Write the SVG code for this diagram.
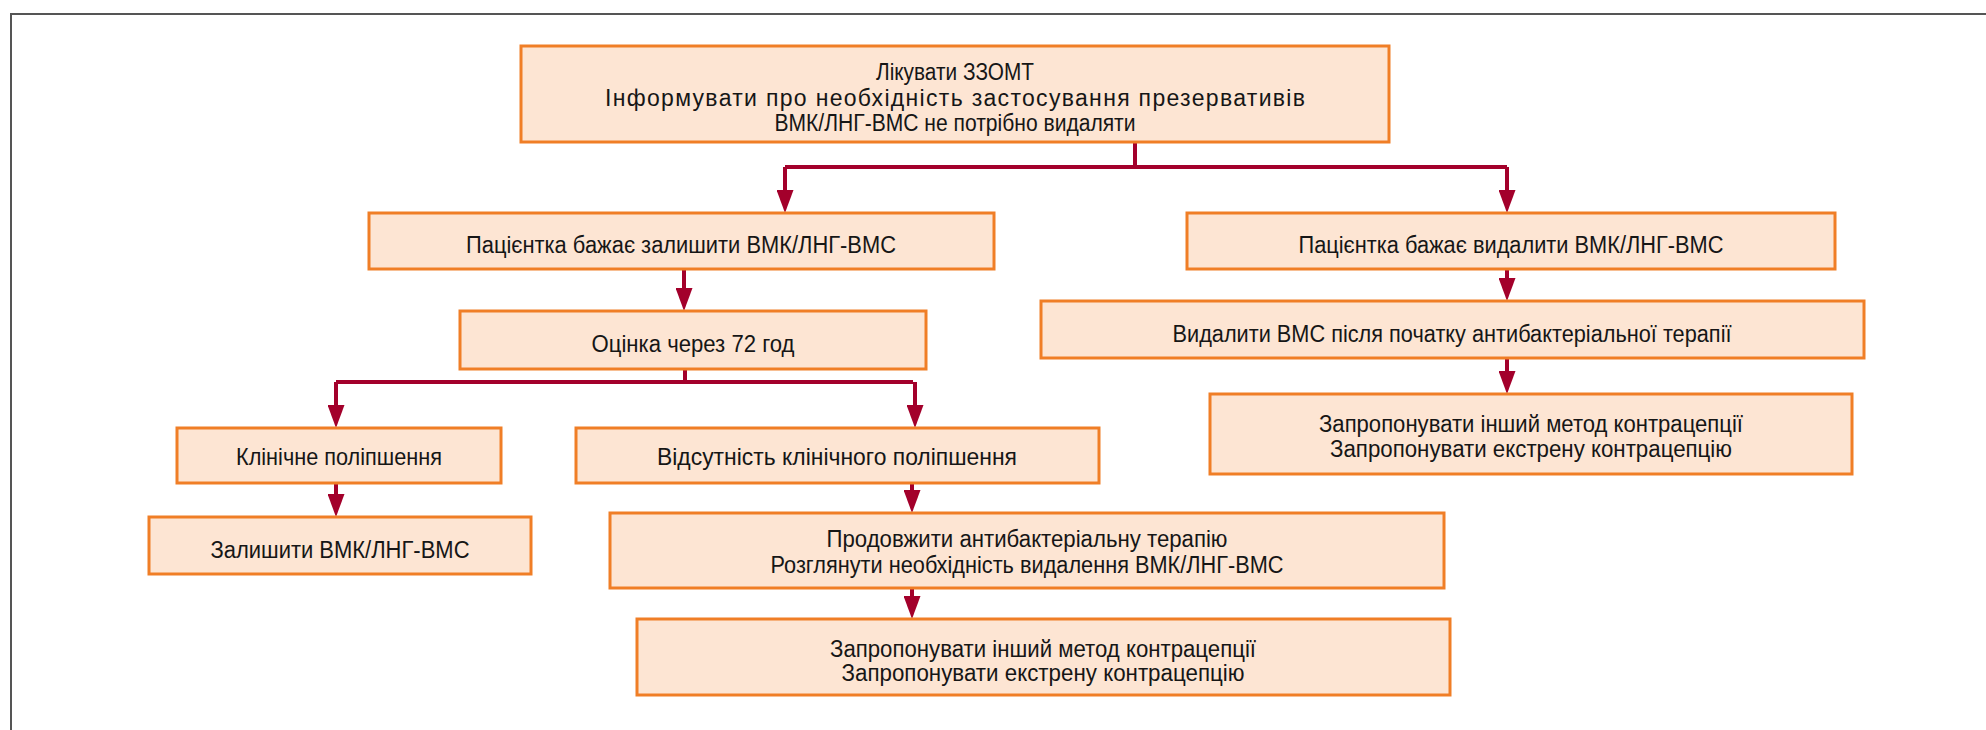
<svg xmlns="http://www.w3.org/2000/svg" width="1986" height="730" viewBox="0 0 1986 730">
<style>
.box{fill:#FDE5D3;stroke:#F07E26;stroke-width:3}
.t{font-family:"Liberation Sans",Arial,sans-serif;font-size:23px;fill:#161616;text-anchor:middle}
.c{fill:none;stroke:#A3002B;stroke-width:4}
</style>
<defs>
<marker id="ah" viewBox="0 0 23 17" refX="13" refY="8.5" markerWidth="23" markerHeight="17" markerUnits="userSpaceOnUse" orient="auto">
<path d="M0,0 L23,8.5 L0,17 z" fill="#A3002B"/>
</marker>
</defs>
<rect width="1986" height="730" fill="#ffffff"/>
<path d="M11,730 V14 H1986" fill="none" stroke="#555" stroke-width="2"/>
<g id="connectors">
<path class="c" d="M1135,142 V167"/>
<path class="c" d="M785,167 H1507"/>
<path class="c" d="M785,167 V203" marker-end="url(#ah)"/>
<path class="c" d="M1507,167 V203" marker-end="url(#ah)"/>
<path class="c" d="M684,269 V301" marker-end="url(#ah)"/>
<path class="c" d="M685,369 V382"/>
<path class="c" d="M336,382 H913"/>
<path class="c" d="M336,382 V418" marker-end="url(#ah)"/>
<path class="c" d="M915,382 V418" marker-end="url(#ah)"/>
<path class="c" d="M336,483 V507" marker-end="url(#ah)"/>
<path class="c" d="M912,483 V503" marker-end="url(#ah)"/>
<path class="c" d="M912,588 V609" marker-end="url(#ah)"/>
<path class="c" d="M1507,269 V291" marker-end="url(#ah)"/>
<path class="c" d="M1507,358 V384" marker-end="url(#ah)"/>
</g>
<g id="n1"><rect class="box" x="521" y="46" width="868" height="96"/>
<text class="t" x="955" y="80" textLength="158" lengthAdjust="spacingAndGlyphs">Лікувати ЗЗОМТ</text>
<text class="t" x="955" y="106" textLength="700" lengthAdjust="spacing">Інформувати про необхідність застосування презервативів</text>
<text class="t" x="955" y="131" textLength="361" lengthAdjust="spacingAndGlyphs">ВМК/ЛНГ-ВМС не потрібно видаляти</text></g>
<g id="n2"><rect class="box" x="369" y="213" width="625" height="56"/>
<text class="t" x="681" y="253" textLength="430" lengthAdjust="spacingAndGlyphs">Пацієнтка бажає залишити ВМК/ЛНГ-ВМС</text></g>
<g id="n3"><rect class="box" x="1187" y="213" width="648" height="56"/>
<text class="t" x="1511" y="253" textLength="425" lengthAdjust="spacingAndGlyphs">Пацієнтка бажає видалити ВМК/ЛНГ-ВМС</text></g>
<g id="n4"><rect class="box" x="460" y="311" width="466" height="58"/>
<text class="t" x="693" y="352" textLength="203" lengthAdjust="spacingAndGlyphs">Оцінка через 72 год</text></g>
<g id="n5"><rect class="box" x="177" y="428" width="324" height="55"/>
<text class="t" x="339" y="465" textLength="206" lengthAdjust="spacingAndGlyphs">Клінічне поліпшення</text></g>
<g id="n6"><rect class="box" x="576" y="428" width="523" height="55"/>
<text class="t" x="837" y="465" textLength="360" lengthAdjust="spacingAndGlyphs">Відсутність клінічного поліпшення</text></g>
<g id="n7"><rect class="box" x="149" y="517" width="382" height="57"/>
<text class="t" x="340" y="558" textLength="259" lengthAdjust="spacingAndGlyphs">Залишити ВМК/ЛНГ-ВМС</text></g>
<g id="n8"><rect class="box" x="610" y="513" width="834" height="75"/>
<text class="t" x="1027" y="547" textLength="401" lengthAdjust="spacingAndGlyphs">Продовжити антибактеріальну терапію</text>
<text class="t" x="1027" y="573" textLength="513" lengthAdjust="spacingAndGlyphs">Розглянути необхідність видалення ВМК/ЛНГ-ВМС</text></g>
<g id="n9"><rect class="box" x="637" y="619" width="813" height="76"/>
<text class="t" x="1043" y="657" textLength="426" lengthAdjust="spacingAndGlyphs">Запропонувати інший метод контрацепції</text>
<text class="t" x="1043" y="681" textLength="403" lengthAdjust="spacingAndGlyphs">Запропонувати екстрену контрацепцію</text></g>
<g id="n10"><rect class="box" x="1041" y="301" width="823" height="57"/>
<text class="t" x="1452" y="342" textLength="559" lengthAdjust="spacingAndGlyphs">Видалити ВМС після початку антибактеріальної терапії</text></g>
<g id="n11"><rect class="box" x="1210" y="394" width="642" height="80"/>
<text class="t" x="1531" y="432" textLength="424" lengthAdjust="spacingAndGlyphs">Запропонувати інший метод контрацепції</text>
<text class="t" x="1531" y="457" textLength="402" lengthAdjust="spacingAndGlyphs">Запропонувати екстрену контрацепцію</text></g>
</svg>
